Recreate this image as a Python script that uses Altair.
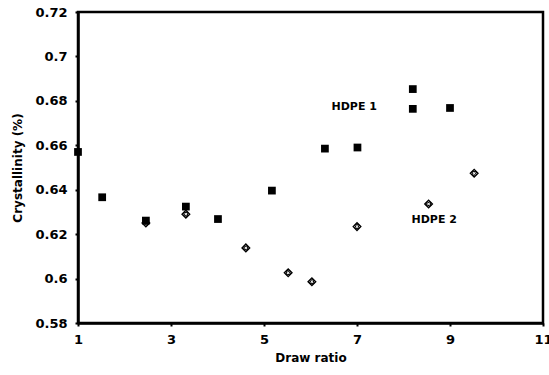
import altair as alt
import pandas as pd

# HDPE 1 (filled squares)
h1_x = [1.0, 1.52, 2.46, 3.32, 4.01, 5.17, 6.31, 7.01, 8.2, 8.2, 9.0]
h1_y = [0.657, 0.6366, 0.6261, 0.6324, 0.6268, 0.6396, 0.6585, 0.659, 0.6853, 0.6764, 0.6768]

# HDPE 2 (crossed diamonds)
h2_x = [2.46, 3.32, 4.61, 5.52, 6.03, 7.0, 8.54, 9.52]
h2_y = [0.625, 0.629, 0.6138, 0.6026, 0.5986, 0.6234, 0.6336, 0.6474]

label_text = ["HDPE 1", "HDPE 2"]
label_x = [6.94, 8.66]
label_y = [0.6773, 0.6264]

x_ticks = [1, 3, 5, 7, 9, 11]
y_ticks = [0.58, 0.6, 0.62, 0.64, 0.66, 0.68, 0.7, 0.72]

FONT = "DejaVu Sans"

d1 = pd.DataFrame({"x": h1_x, "y": h1_y})
d2 = pd.DataFrame({"x": h2_x, "y": h2_y})
dl = pd.DataFrame({"x": label_x, "y": label_y, "t": label_text})

xs = alt.Scale(domain=[1, 11], nice=False, zero=False)
ys = alt.Scale(domain=[0.58, 0.72], nice=False, zero=False)

xax = alt.Axis(values=x_ticks, title="Draw  ratio", grid=False, format="d",
               labelFont=FONT, labelFontWeight="bold", labelFontSize=13, labelColor="black",
               titleFont=FONT, titleFontWeight="bold", titleFontSize=12, titleColor="black",
               domainColor="black", domainWidth=2.5, tickColor="black", tickSize=3, tickWidth=2,
               labelPadding=7, titlePadding=6, labelFlush=False)
yax = alt.Axis(values=y_ticks, title="Crystallinity  (%)", grid=False, format=".2~f",
               labelFont=FONT, labelFontWeight="bold", labelFontSize=13, labelColor="black",
               titleFont=FONT, titleFontWeight="bold", titleFontSize=12, titleColor="black",
               domainColor="black", domainWidth=2.5, tickColor="black", tickSize=3, tickWidth=2,
               labelPadding=8, titleX=-54, labelFlush=False)

sq = alt.Chart(d1).mark_point(shape="square", filled=True, color="black", size=60, opacity=1).encode(
    x=alt.X("x:Q", scale=xs, axis=xax),
    y=alt.Y("y:Q", scale=ys, axis=yax),
)
dia = alt.Chart(d2).mark_point(shape="diamond", filled=False, color="black", size=60, strokeWidth=1.3, opacity=1).encode(
    x=alt.X("x:Q", scale=xs), y=alt.Y("y:Q", scale=ys))
crs = alt.Chart(d2).mark_point(shape="cross", filled=False, color="black", size=22, angle=45, strokeWidth=1, opacity=1).encode(
    x=alt.X("x:Q", scale=xs), y=alt.Y("y:Q", scale=ys))
txt = alt.Chart(dl).mark_text(font=FONT, fontWeight="bold", fontSize=11, color="black").encode(
    x=alt.X("x:Q", scale=xs), y=alt.Y("y:Q", scale=ys), text="t:N")

chart = alt.layer(sq, dia, crs, txt).properties(
    width=465, height=311,
    autosize=alt.AutoSizeParams(type="none"),
    padding={"left": 78, "top": 12, "right": 6, "bottom": 52},
    background="white",
).configure_view(stroke="black", strokeWidth=2.5)

chart.save("out.html", embed_options={"renderer": "svg", "actions": False})
